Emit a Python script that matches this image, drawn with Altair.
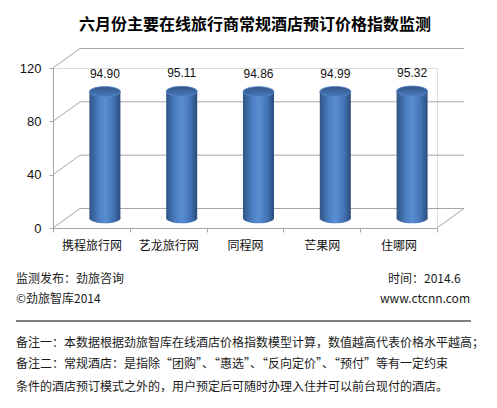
import altair as alt
import pandas as pd

names = ["携程旅行网", "艺龙旅行网", "同程网", "芒果网", "住哪网"]
values = [94.90, 95.11, 94.86, 94.99, 95.32]
value_labels = ["94.90", "95.11", "94.86", "94.99", "95.32"]
y_ticks = [0, 40, 80, 120]

title_text = "六月份主要在线旅行商常规酒店预订价格指数监测"
source_text = "监测发布：劲旅咨询"
copyright_text = "©劲旅智库2014"
time_text = "时间：2014.6"
site_text = "www.ctcnn.com"
note_lines = [
    "备注一：本数据根据劲旅智库在线酒店价格指数模型计算，数值越高代表价格水平越高；",
    "备注二：常规酒店：是指除“团购”、“惠选”、“反向定价”、“预付”等有一定约束",
    "条件的酒店预订模式之外的，用户预定后可随时办理入住并可以前台现付的酒店。",
]

W, H = 384, 160
DX, DY = 27, -19.5
HX, HY = DX / 2, DY / 2
GRID = "#a6a6a6"
FONT = "Noto Sans CJK SC"

bars_df = pd.DataFrame({"name": names, "value": values, "label": value_labels})
ticks_df = pd.DataFrame({"v": y_ticks})

yscale = alt.Scale(domain=[0, 120], nice=False)
xscale = alt.Scale(domain=names, paddingInner=0, paddingOuter=0)

x_enc = alt.X(
    "name:N", sort=names, scale=xscale,
    axis=alt.Axis(title=None, tickBand="extent", labelAngle=0, labelFont=FONT,
                  labelFontSize=12, labelColor="#111111", domainColor=GRID,
                  tickColor=GRID, tickSize=4, labelPadding=8, grid=False),
)
y_enc = alt.Y(
    "value:Q", scale=yscale,
    axis=alt.Axis(title=None, values=y_ticks, labelFont="Liberation Sans",
                  labelFontSize=13, labelColor="#111111", domainColor=GRID,
                  tickColor=GRID, tickSize=4, labelPadding=8, grid=False),
)

# back wall gridlines
back = alt.Chart(ticks_df).mark_rule(color=GRID, strokeWidth=1, yOffset=DY).encode(
    y=alt.Y("v:Q", scale=yscale), x=alt.value(DX), x2=alt.value(W + DX)
)
# left wall diagonals
diag = alt.Chart(ticks_df).mark_rule(color=GRID, strokeWidth=1, y2Offset=DY).encode(
    y=alt.Y("v:Q", scale=yscale), y2="v:Q", x=alt.value(0), x2=alt.value(DX)
)
# floor right edge
floor_df = pd.DataFrame({"v": [0]})
floor = alt.Chart(floor_df).mark_rule(color=GRID, strokeWidth=1, y2Offset=DY).encode(
    y=alt.Y("v:Q", scale=yscale), y2="v:Q", x=alt.value(W), x2=alt.value(W + DX)
)

body_grad = alt.Gradient(
    gradient="linear", x1=0, x2=1, y1=0, y2=0,
    stops=[
        alt.GradientStop(offset=0, color="#2e5585"),
        alt.GradientStop(offset=0.3, color="#4b7ec2"),
        alt.GradientStop(offset=0.5, color="#5a8ed3"),
        alt.GradientStop(offset=0.78, color="#4373b5"),
        alt.GradientStop(offset=1, color="#2a4c7c"),
    ],
)
top_grad = alt.Gradient(
    gradient="linear", x1=0, x2=0, y1=0, y2=1,
    stops=[
        alt.GradientStop(offset=0, color="#2f5688"),
        alt.GradientStop(offset=1, color="#4a7cbf"),
    ],
)

ellipse = "M -1 0 A 1 0.33 0 1 1 1 0 A 1 0.33 0 1 1 -1 0 Z"

base = alt.Chart(bars_df)
bars = base.mark_bar(width=31, xOffset=HX, yOffset=HY, y2Offset=HY, fill=body_grad).encode(
    x=x_enc, y=y_enc
)
bottoms = base.transform_calculate(zero="0").mark_point(
    shape=ellipse, size=961, filled=True, fill=body_grad, opacity=1, strokeWidth=0,
    xOffset=HX, yOffset=HY,
).encode(x=alt.X("name:N", sort=names, scale=xscale), y=alt.Y("zero:Q", scale=yscale))
tops = base.mark_point(
    shape=ellipse, size=961, filled=True, fill=top_grad, opacity=1,
    stroke="#5b89c6", strokeWidth=0.8, xOffset=HX, yOffset=HY,
).encode(x=alt.X("name:N", sort=names, scale=xscale), y=alt.Y("value:Q", scale=yscale))
labels = base.mark_text(
    font="Liberation Sans", fontSize=12, color="#111111", xOffset=HX, yOffset=HY - 18,
    baseline="middle",
).encode(x=alt.X("name:N", sort=names, scale=xscale), y=alt.Y("value:Q", scale=yscale),
         text="label:N")


def txt(s, x, y, size=12, weight="normal", align="left", color="#1a1a1a", font=FONT):
    return alt.Chart(pd.DataFrame({"t": [s]})).mark_text(
        font=font, fontSize=size, fontWeight=weight, align=align, baseline="middle",
        color=color,
    ).encode(x=alt.value(x), y=alt.value(y), text="t:N")


title = txt(title_text, 202, -43, size=16, weight="bold", align="center", color="#000000")
f1 = txt(source_text, -37, 211)
f2 = txt(copyright_text, -37, 231)
f3 = txt(time_text, 335, 211)
f4 = txt(site_text, 327, 231, size=12)
sep = alt.Chart(pd.DataFrame({"a": [0]})).mark_rule(color="#000000", strokeWidth=1).encode(
    x=alt.value(-37), x2=alt.value(418), y=alt.value(253)
)
n1 = txt(note_lines[0], -37, 275)
n2 = txt(note_lines[1], -37, 296)
n3 = txt(note_lines[2], -37, 319)

chart = alt.layer(
    back, diag, floor, bars, bottoms, tops, labels, title, f1, f2, f3, f4, sep, n1, n2, n3
).properties(
    width=W, height=H,
    autosize=alt.AutoSizeParams(type="none"),
    padding={"left": 45, "top": 60, "right": 52, "bottom": 172},
).configure_view(stroke=None).configure(background="white")

chart.save("out.html", embed_options={"renderer": "svg", "actions": False})
